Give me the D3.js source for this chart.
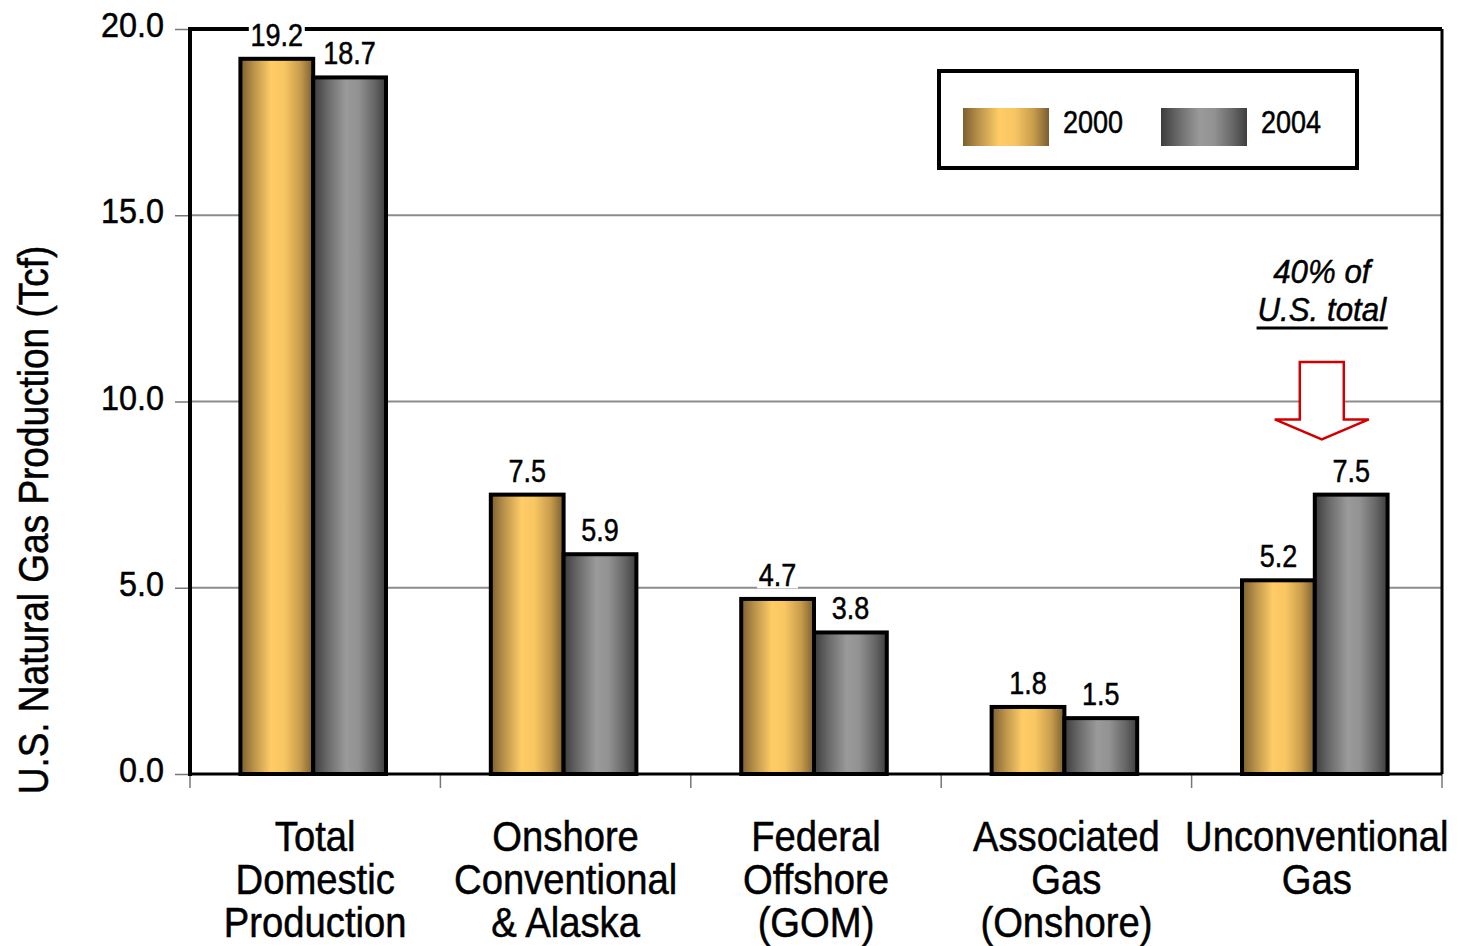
<!DOCTYPE html>
<html>
<head>
<meta charset="utf-8">
<script src="https://cdn.jsdelivr.net/npm/d3@7/dist/d3.min.js"></script>
<style>
  html, body { margin: 0; padding: 0; background: #fff; }
  svg { display: block; }
  text { font-family: "Liberation Sans", Arial, "DejaVu Sans", sans-serif; fill: #000; stroke: #000; stroke-width: 0.5px; }
</style>
</head>
<body>
<svg id="chart" width="1470" height="946"></svg>
<script>
// U.S. natural gas production by source, 2000 vs 2004 (Tcf)
const categories = [
  ["Total", "Domestic", "Production"],
  ["Onshore", "Conventional", "& Alaska"],
  ["Federal", "Offshore", "(GOM)"],
  ["Associated", "Gas", "(Onshore)"],
  ["Unconventional", "Gas"]
];
const years = ["2000", "2004"];
const values2000 = [19.2, 7.5, 4.7, 1.8, 5.2];
const values2004 = [18.7, 5.9, 3.8, 1.5, 7.5];
const yTicks = [0, 5, 10, 15, 20];
const yTickLabels = ["0.0", "5.0", "10.0", "15.0", "20.0"];
const gridValues = [5, 10, 15];
const yTitle = "U.S. Natural Gas Production (Tcf)";
const noteLines = ["40% of", "U.S. total"];

const series = [values2000, values2004];
const svg = d3.select("#chart");

const plotLeft = 190, plotRight = 1442, plotTop = 29, plotBottom = 774;
const SX = 0.87; // horizontal squeeze for a condensed typeface look

// Condensed text helper: positions via translate, squeezes horizontally
function ctext(parent, x, y, str, size, anchor = "middle", sx = SX, extra = "") {
  return parent.append("text")
    .attr("transform", `translate(${x},${y}) ${extra} scale(${sx},1)`)
    .attr("text-anchor", anchor)
    .attr("font-size", size)
    .text(str);
}

const y = d3.scaleLinear().domain([0, 20]).range([plotBottom, plotTop]);
const x0 = d3.scaleBand().domain(d3.range(categories.length)).range([plotLeft, plotRight]).paddingInner(0).paddingOuter(0);
const x1 = d3.scaleBand().domain(years).range([0, x0.bandwidth()]).paddingInner(0).paddingOuter(0.72);

// Horizontal "cylinder" gradients for the two series
const defs = svg.append("defs");
const gradStops = {
  "2000": [[0, "#7d6030"], [0.18, "#b8914a"], [0.42, "#ffcc66"], [0.6, "#f8c662"], [0.82, "#c89c4c"], [1, "#7a5e30"]],
  "2004": [[0, "#3c3c3c"], [0.2, "#6a6a6a"], [0.45, "#9a9a9a"], [0.62, "#929292"], [0.84, "#666666"], [1, "#3e3e3e"]]
};
years.forEach(yr => {
  const g = defs.append("linearGradient").attr("id", "grad" + yr)
    .attr("x1", "0%").attr("x2", "100%").attr("y1", "0%").attr("y2", "0%");
  gradStops[yr].forEach(([o, c]) => g.append("stop").attr("offset", o).attr("stop-color", c));
});

// Gridlines
svg.append("g").selectAll("line").data(gridValues).join("line")
  .attr("x1", plotLeft).attr("x2", plotRight)
  .attr("y1", d => y(d)).attr("y2", d => y(d))
  .attr("stroke", "#8c8c8c").attr("stroke-width", 2);

// Y axis ticks (labels drawn separately in condensed style)
const yAxis = d3.axisLeft(y).tickValues(yTicks).tickSize(15).tickFormat("");
const yAxisG = svg.append("g").attr("transform", `translate(${plotLeft},0)`).call(yAxis);
yAxisG.select(".domain").remove();
yAxisG.selectAll(".tick line").attr("stroke", "#777").attr("stroke-width", 1.5);
const yLabG = svg.append("g");
yTicks.forEach((t, i) => ctext(yLabG, 164, y(t) + 8, yTickLabels[i], 36, "end", 0.9));

// X axis boundary ticks
const boundaries = d3.range(categories.length + 1).map(i => i < categories.length ? x0(i) : plotRight);
svg.append("g").selectAll("line").data(boundaries).join("line")
  .attr("x1", d => d).attr("x2", d => d)
  .attr("y1", plotBottom).attr("y2", plotBottom + 14)
  .attr("stroke", "#777").attr("stroke-width", 1.5);

// Bars
const barG = svg.append("g");
categories.forEach((c, i) => {
  years.forEach((yr, j) => {
    const v = series[j][i];
    barG.append("rect")
      .attr("x", x0(i) + x1(yr) - 2)
      .attr("y", y(v))
      .attr("width", x1.bandwidth())
      .attr("height", y(0) - y(v))
      .attr("fill", `url(#grad${yr})`)
      .attr("stroke", "#000").attr("stroke-width", 4);
  });
});

// Plot frame
svg.append("line").attr("x1", plotLeft).attr("x2", plotRight).attr("y1", plotTop).attr("y2", plotTop)
  .attr("stroke", "#000").attr("stroke-width", 4);
svg.append("line").attr("x1", plotRight).attr("x2", plotRight).attr("y1", plotTop).attr("y2", plotBottom)
  .attr("stroke", "#000").attr("stroke-width", 3);
svg.append("line").attr("x1", plotLeft).attr("x2", plotLeft).attr("y1", plotTop - 2).attr("y2", plotBottom + 2)
  .attr("stroke", "#000").attr("stroke-width", 4);
svg.append("line").attr("x1", plotLeft).attr("x2", plotRight).attr("y1", plotBottom).attr("y2", plotBottom)
  .attr("stroke", "#000").attr("stroke-width", 3);

// Value labels with white knock-out backgrounds
const labelG = svg.append("g");
categories.forEach((c, i) => {
  years.forEach((yr, j) => {
    const v = series[j][i];
    const cx = x0(i) + x1(yr) + x1.bandwidth() / 2 - 2;
    const g = labelG.append("g");
    const t = ctext(g, cx, y(v) - 13, v.toFixed(1), 31);
    const bb = t.node().getBBox();
    g.insert("rect", "text")
      .attr("x", cx + (bb.x - 2) * SX).attr("y", y(v) - 13 + bb.y + 4)
      .attr("width", (bb.width + 4) * SX).attr("height", bb.height - 8)
      .attr("fill", "#fff");
  });
});

// Category labels
const catG = svg.append("g");
categories.forEach((lines, i) => {
  const cx = x0(i) + x0.bandwidth() / 2;
  lines.forEach((ln, k) => ctext(catG, cx, 851 + k * 43, ln, 42, "middle", 0.91));
});

// Y axis title
ctext(svg, 48, 520, yTitle, 43, "middle", 0.86, "rotate(-90)");

// Legend
const legend = svg.append("g");
legend.append("rect").attr("x", 939).attr("y", 71).attr("width", 418).attr("height", 97)
  .attr("fill", "#fff").attr("stroke", "#000").attr("stroke-width", 4);
years.forEach((yr, j) => {
  const lx = 963 + j * 198;
  legend.append("rect").attr("x", lx).attr("y", 108).attr("width", 86).attr("height", 38)
    .attr("fill", `url(#grad${yr})`);
  ctext(legend, lx + 100, 133, yr, 31, "start");
});

// Annotation on the unconventional gas group
const ui = categories.length - 1;
const ax = x0(ui) + x0.bandwidth() / 2 + 5;
const noteG = svg.append("g");
ctext(noteG, ax, y(13.18), noteLines[0], 34, "middle", 0.92).attr("font-style", "italic");
const note2 = ctext(noteG, ax, y(12.16), noteLines[1], 34, "middle", 0.92).attr("font-style", "italic");
const nb = note2.node().getBBox();
noteG.append("line")
  .attr("x1", ax + (nb.x - 1) * 0.92).attr("x2", ax + (nb.x + nb.width + 1) * 0.92)
  .attr("y1", y(12.16) + 7).attr("y2", y(12.16) + 7)
  .attr("stroke", "#000").attr("stroke-width", 3);

// Hollow red arrow pointing down at the 2004 bar
const shaftHalf = 22, headHalf = 47;
const yTop = y(11.06), yHead = y(9.52), yTip = y(8.98);
const arrowPts = [
  [ax - shaftHalf, yTop], [ax + shaftHalf, yTop], [ax + shaftHalf, yHead],
  [ax + headHalf, yHead], [ax, yTip], [ax - headHalf, yHead], [ax - shaftHalf, yHead]
];
svg.append("path")
  .attr("d", d3.line()(arrowPts) + "Z")
  .attr("fill", "#fff").attr("stroke", "#d00000").attr("stroke-width", 2.5)
  .attr("stroke-linejoin", "miter");
</script>
</body>
</html>
